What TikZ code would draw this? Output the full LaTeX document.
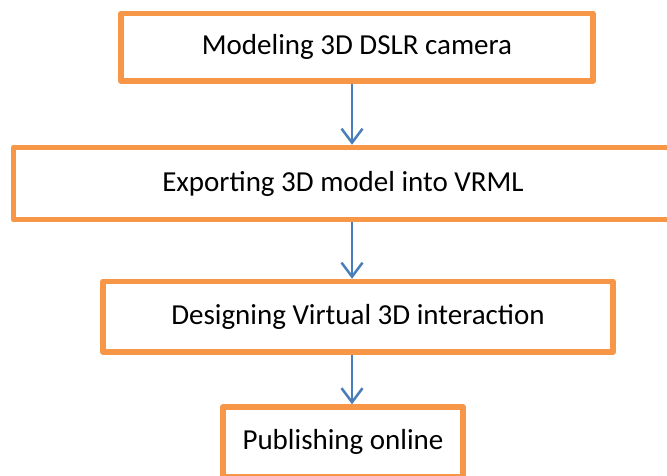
\documentclass[tikz,border=0pt]{standalone}
\usepackage{fontspec}
\setmainfont{Carlito}
\usetikzlibrary{arrows.meta}
\definecolor{boxorange}{HTML}{F79646}
\definecolor{arrowblue}{HTML}{4A7EBB}
\begin{document}
\begin{tikzpicture}[x=1pt,y=-1pt,
  stepbox/.style={draw=boxorange, line width=5.5pt, line join=round, fill=white,
    inner sep=0pt, text=black, font=\fontsize{29}{34}\selectfont},
  flow/.style={draw=arrowblue, line width=2.5pt,
    -{Straight Barb[length=14pt, width=21pt, line width=2.5pt]}}]
\useasboundingbox (0,0) rectangle (667,476);
% process steps, top to bottom
\node[stepbox, minimum width=472pt, minimum height=67.5pt] (b1) at (357,47.25) {Modeling 3D DSLR camera};
\node[stepbox, minimum width=659pt, minimum height=72pt] (b2) at (343,183.5) {Exporting 3D model into VRML};
\node[stepbox, minimum width=510pt, minimum height=70.5pt] (b3) at (358,316.75) {Designing Virtual 3D interaction};
\node[stepbox, minimum width=240pt, minimum height=70pt] (b4) at (343,442) {\raisebox{2pt}{Publishing online}};
% common vertical axis of the connectors
\coordinate (axis) at (352,0);
\draw[flow] (b1.south -| axis) -- (b2.north -| axis);
\draw[flow] (b2.south -| axis) -- (b3.north -| axis);
\draw[flow] (b3.south -| axis) -- (b4.north -| axis);
\end{tikzpicture}
\end{document}
